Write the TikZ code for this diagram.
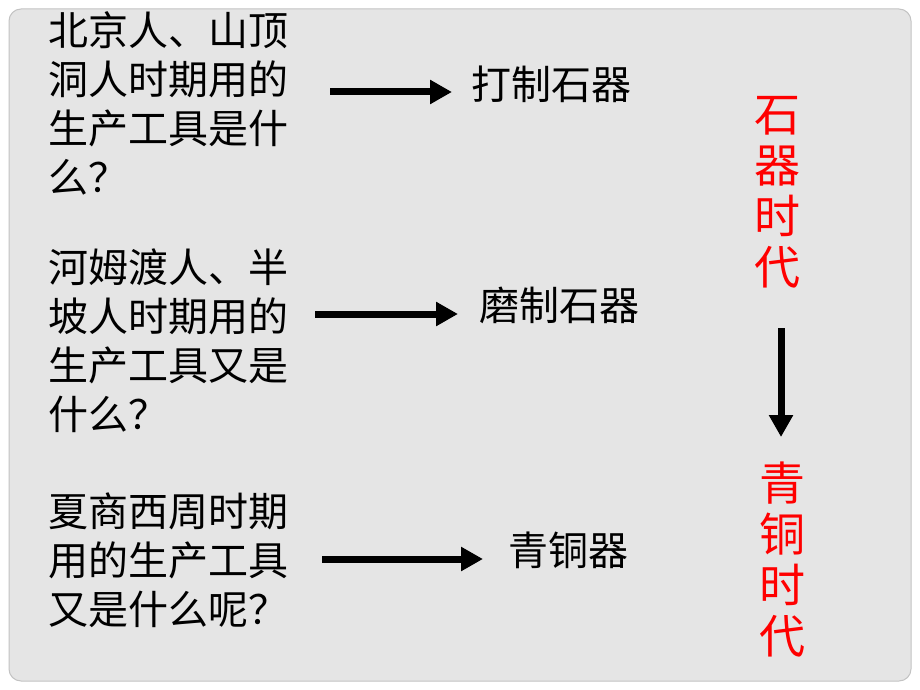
\documentclass[tikz,border=0pt]{standalone}
\usepackage{fontspec}
\setmainfont{Noto Sans CJK SC}
\usetikzlibrary{arrows.meta}
\definecolor{slidebg}{RGB}{229,229,229}
\definecolor{slideedge}{RGB}{195,195,195}
\definecolor{redtxt}{RGB}{255,0,0}
\tikzset{
  qtext/.style={anchor=west, align=left, inner sep=0pt, font=\fontsize{40}{49}\selectfont},
  ans/.style={anchor=west, inner sep=0pt, font=\fontsize{40}{48}\selectfont},
  era/.style={align=center, inner sep=0pt, text=redtxt, font=\fontsize{46}{51}\selectfont},
  fat/.style={line width=7pt, -{Triangle[length=22pt,width=23pt]}}
}
\begin{document}
\begin{tikzpicture}[x=1pt,y=-1pt]
\useasboundingbox (0,0) rectangle (920,690);
\fill[white] (0,0) rectangle (920,690);
\draw[slideedge, fill=slidebg, line width=1pt, rounded corners=12pt] (9,9) rectangle (911,681);
% questions
\node[qtext] (q1) at (48,103) {北京人、山顶\\洞人时期用的\\生产工具是什\\么？};
\node[qtext] (q2) at (48,341) {河姆渡人、半\\坡人时期用的\\生产工具又是\\什么？};
\node[qtext] (q3) at (48,560) {夏商西周时期\\用的生产工具\\又是什么呢？};
% answers
\node[ans] (r1) at (471,84) {打制石器};
\node[ans] (r2) at (479,305) {磨制石器};
\node[ans] (r3) at (508,550) {青铜器};
% arrows
\coordinate (a1s) at (330,92);
\coordinate (a1e) at (452,92);
\coordinate (a2s) at (315,314);
\coordinate (a2e) at (458,314);
\coordinate (a3s) at (322,559);
\coordinate (a3e) at (483,559);
\draw[fat] (a1s) -- (a1e);
\draw[fat] (a2s) -- (a2e);
\draw[fat] (a3s) -- (a3e);
% eras
\node[era] (e1) at (777,192) {石\\器\\时\\代};
\node[era] (e2) at (782,560) {青\\铜\\时\\代};
\coordinate (vs) at (781,328);
\coordinate (ve) at (781,437);
\draw[fat] (vs) -- (ve);
\end{tikzpicture}
\end{document}
